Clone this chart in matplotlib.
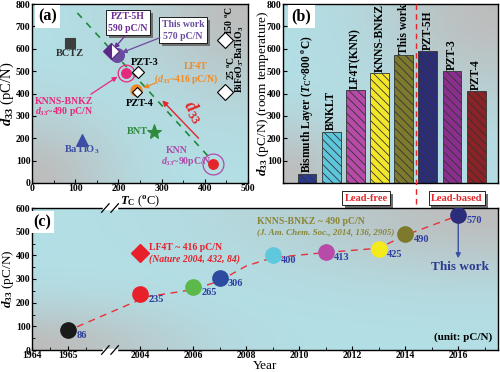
import numpy as np
import matplotlib
matplotlib.use('Agg')
import matplotlib.pyplot as plt
import matplotlib.patheffects as pe

plt.rcParams['font.family'] = ['Liberation Serif', 'DejaVu Serif']
plt.rcParams['font.weight'] = 'bold'
plt.rcParams['mathtext.fontset'] = 'custom'
plt.rcParams['mathtext.rm'] = 'Liberation Serif:bold'
plt.rcParams['mathtext.it'] = 'Liberation Serif:italic:bold'
plt.rcParams['mathtext.bf'] = 'Liberation Serif:bold'
plt.rcParams['hatch.linewidth'] = 0.6
plt.rcParams['xtick.direction'] = 'in'
plt.rcParams['ytick.direction'] = 'in'
plt.rcParams['axes.linewidth'] = 1.0

# ---- (a) d33 vs Tc ----
a_names = ['BCTZ', 'BaTiO3', 'BNT', 'This work', 'PZT-5H', 'KNNS-BNKZ', 'PZT-3',
           'LF4T', 'PZT-4', 'KNN', 'BF-BT 150C', 'BF-BT 25C']
a_tc = [88, 116, 282, 197, 182, 218, 246, 240, 243, 420, 447, 447]
a_d33 = [624, 191, 228, 570, 590, 490, 496, 416, 408, 87, 639, 405]
guide_tc = [105, 410]
guide_d33 = [760, 115]

# ---- (b) bars ----
b_labels = ['Bismuth Layer ($T_\\mathrm{C}$~800 $^\\mathrm{o}$C)', 'BNKLT', 'LF4T(KNN)',
            'KNNS-BNKZ', 'This work', 'PZT-5H', 'PZT-3', 'PZT-4']
b_values = [40, 230, 416, 490, 570, 590, 500, 410]

# ---- (c) history ----
c_years = [1965, 2004, 2006, 2007, 2009, 2011, 2013, 2014, 2016]
c_d33 = [86, 235, 265, 306, 400, 413, 425, 490, 570]
trend_years = [1965.25, 2004.25, 2006, 2007, 2008, 2009, 2011, 2013, 2014, 2016]
trend_d33 = [98, 225, 255, 292, 355, 390, 412, 430, 485, 568]
lf4t_year, lf4t_d33 = 2004, 410


def add_bg(ax, s1=0.12, s2=0.22):
    x = np.linspace(0, 1, 200)
    y = np.linspace(0, 1, 120)
    X, Y = np.meshgrid(x, y)
    w = np.maximum(np.exp(-(X ** 2 + Y ** 2) / s1),
                   np.exp(-((1 - X) ** 2 + (1 - Y) ** 2) / s2))
    cyan = np.array([0.70, 0.875, 0.90])
    gray = np.array([0.74, 0.74, 0.74])
    img = cyan * (1 - w[..., None]) + gray * w[..., None]
    ax.imshow(img, extent=[0, 1, 0, 1], transform=ax.transAxes, origin='lower',
              aspect='auto', zorder=0, interpolation='bilinear')


def shadow_text(ax, x, y, s, color, size, transform=None, **kw):
    tr = transform if transform is not None else ax.transData
    t = ax.text(x, y, s, transform=tr, color=color, fontsize=size, clip_on=False,
                bbox=dict(boxstyle='square,pad=0.25', fc='white', ec='black', lw=0.6),
                **kw)
    t.get_bbox_patch().set_path_effects([
        pe.SimplePatchShadow(offset=(2, -2), shadow_rgbFace='#707070', alpha=1.0),
        pe.Normal()])
    return t


fig = plt.figure(figsize=(5.0, 3.72), dpi=100)
ax_a = fig.add_axes([32 / 500, 1 - 183 / 372, 216 / 500, 179 / 372])
ax_b = fig.add_axes([283 / 500, 1 - 183 / 372, 215 / 500, 179 / 372])
ax_c = fig.add_axes([32 / 500, 1 - 350 / 372, 466 / 500, 142 / 372])

# ================= panel (a) =================
add_bg(ax_a, 0.15, 0.25)
ax_a.plot(guide_tc, guide_d33, ls=(0, (4, 4)), color='#1f8a3a', lw=1.2, zorder=2)

a_markers = ['s', '^', '*', 'o', 'D', 'o', 'D', 'o', 'D', 'o', 'D', 'D']
a_face = ['#3d3d3d', '#3b4ea3', '#2e8b3e', '#6a4c9f', '#5a2a86', '#e8287c', 'white',
          '#f08a24', 'white', '#e3262a', 'white', 'white']
a_edge = ['#3d3d3d', '#3b4ea3', '#2e8b3e', '#6a4c9f', '#5a2a86', '#e8287c', 'black',
          '#f08a24', 'black', '#e3262a', 'black', 'black']
a_size = [7, 9, 11, 10, 8, 7, 6.5, 8, 5, 7, 8, 8]
for i in range(len(a_tc)):
    kw = {}
    if a_names[i] == 'PZT-5H':
        kw = dict(fillstyle='left', markerfacecoloralt='white')
    ax_a.plot(a_tc[i], a_d33[i], a_markers[i], ms=a_size[i], mfc=a_face[i],
              mec=a_edge[i], mew=0.8, zorder=4 + i * 0.01, **kw)
# rings
ax_a.plot(a_tc[5], a_d33[5], 'o', ms=12, mfc='none', mec='#e8287c', mew=0.9, zorder=4)
ax_a.plot(a_tc[9], a_d33[9], 'o', ms=15, mfc='none', mec='#b04aa8', mew=0.9, zorder=4)

ax_a.text(88, 579, 'BCTZ', color='#333333', fontsize=7.5, ha='center', va='center')
ax_a.text(116, 148, 'BaTiO$_3$', color='#3b4ea3', fontsize=7.5, ha='center', va='center')
ax_a.text(268, 228, 'BNT', color='#2e8b3e', fontsize=7.5, ha='right', va='center')
ax_a.text(262, 540, 'PZT-3', color='black', fontsize=7.5, ha='center', va='center')
ax_a.text(250, 357, 'PZT-4', color='black', fontsize=7.5, ha='center', va='center')
ax_a.text(380, 522, 'LF4T', color='#f08a24', fontsize=7, ha='center', va='center')
ax_a.text(356, 465, '($d_{\\mathrm{33}}$~416 pC/N)', color='#f08a24', fontsize=7,
          ha='center', va='center')
ax_a.annotate('', xy=(252, 420), xytext=(292, 452),
              arrowprops=dict(arrowstyle='-|>', color='#f08a24', lw=0.9,
                              mutation_scale=7))
ax_a.text(75, 364, 'KNNS-BNKZ', color='#e8287c', fontsize=7, ha='center', va='center')
ax_a.text(75, 318, '$d_{\\mathrm{33}}$~490 pC/N', color='#e8287c', fontsize=7,
          ha='center', va='center')
ax_a.annotate('', xy=(203, 482), xytext=(131, 390),
              arrowprops=dict(arrowstyle='-|>', color='#e8287c', lw=0.9,
                              mutation_scale=7))
ax_a.text(334, 146, 'KNN', color='#b04aa8', fontsize=7, ha='center', va='center')
ax_a.text(357, 94, '$d_{\\mathrm{33}}$~90pC/N', color='#b04aa8', fontsize=7,
          ha='center', va='center')
ax_a.annotate('', xy=(297, 378), xytext=(390, 191),
              arrowprops=dict(arrowstyle='-|>', color='#e3262a', lw=1.0,
                              mutation_scale=8))
ax_a.text(374, 318, '$d_{\\mathrm{33}}$', color='#e3262a', fontsize=13,
          rotation=-58, ha='center', va='center')
ax_a.text(454, 728, '150 $^\\mathrm{o}$C', rotation=90, fontsize=7, ha='center',
          va='center')
ax_a.text(459, 513, '25 $^\\mathrm{o}$C', rotation=90, fontsize=7, ha='center',
          va='center')
ax_a.text(482, 553, 'BiFeO$_3$-BaTiO$_3$', rotation=90, fontsize=7, ha='center',
          va='center')

shadow_text(ax_a, 222, 717, 'PZT-5H\n590 pC/N', '#6a2c91', 7, ha='center',
            va='center', linespacing=1.4)
shadow_text(ax_a, 350, 683, 'This work\n570 pC/N', '#6a4c9f', 7, ha='center',
            va='center', linespacing=1.4)
ax_a.annotate('', xy=(186, 592), xytext=(220, 668),
              arrowprops=dict(arrowstyle='-|>', color='#6a2c91', lw=0.9,
                              mutation_scale=7))
ax_a.annotate('', xy=(202, 578), xytext=(302, 654),
              arrowprops=dict(arrowstyle='-|>', color='#6a4c9f', lw=0.9,
                              mutation_scale=7))
ax_a.text(0.03, 0.93, '(a)', transform=ax_a.transAxes, fontsize=11.5, va='center',
          bbox=dict(boxstyle='square,pad=0.2', fc='white', ec='none'), zorder=6)

ax_a.set_xlim(0, 500)
ax_a.set_ylim(0, 800)
ax_a.set_xticks(np.arange(0, 501, 100))
ax_a.set_xticks(np.arange(50, 500, 100), minor=True)
ax_a.set_yticks(np.arange(0, 801, 100))
ax_a.tick_params(labelsize=7, length=3, pad=1)
ax_a.tick_params(which='minor', length=2)
ax_a.set_xlabel('$T_\\mathrm{C}$ ($^\\mathrm{o}$C)', fontsize=9, labelpad=0)
ax_a.set_ylabel('$d_{\\mathrm{33}}$ (pC/N)', fontsize=10.5)
ax_a.yaxis.set_label_coords(-0.072, 0.5)

# ================= panel (b) =================
add_bg(ax_b, 0.12, 0.3)
b_colors = ['#2b3a8f', '#5ec6dc', '#b84aa8', '#f3e62a', '#7d7a2e', '#2c2d7a',
            '#8b2f8f', '#8b2226']
x_b = np.arange(len(b_values))
ax_b.bar(x_b, b_values, width=0.78, color=b_colors, edgecolor='#333333', lw=0.6,
         hatch='\\\\\\\\', zorder=2)
for i in range(len(b_values)):
    ax_b.text(x_b[i], b_values[i] + 6, b_labels[i], rotation=90, ha='center',
              va='bottom', fontsize=8.3, zorder=3)
ax_b.plot([4.5, 4.5], [-0.12, 1.0], transform=ax_b.get_xaxis_transform(),
          clip_on=False, color='#e3262a', ls=(0, (4, 3)), lw=1.0, zorder=3)
shadow_text(ax_b, 2.44, -0.085, 'Lead-free', '#e3262a', 7.5, ha='center', va='center',
            transform=ax_b.get_xaxis_transform())
shadow_text(ax_b, 6.2, -0.085, 'Lead-based', '#e3262a', 7.5, ha='center', va='center',
            transform=ax_b.get_xaxis_transform())
ax_b.text(0.04, 0.93, '(b)', transform=ax_b.transAxes, fontsize=11.5, va='center',
          bbox=dict(boxstyle='square,pad=0.2', fc='white', ec='none'), zorder=6)
ax_b.set_xlim(-0.99, 7.9)
ax_b.set_ylim(0, 800)
ax_b.set_xticks([])
ax_b.set_yticks(np.arange(0, 801, 100))
ax_b.set_yticklabels([''] + [str(v) for v in range(100, 801, 100)])
ax_b.tick_params(labelsize=7, length=3, pad=1)
ax_b.set_ylabel('$d_{\\mathrm{33}}$ (pC/N) (room temperature)', fontsize=9.5)
ax_b.yaxis.set_label_coords(-0.058, 0.5)

# ================= panel (c) =================
K = 36 / 26.5
B_L, B_R = 1966.17, 2002.87
Y0 = (B_L - 1964) * K


def fwd(x):
    x = np.asarray(x, dtype=float)
    return np.where(x < 1985, (x - 1964) * K, Y0 + (x - B_R))


def inv(y):
    y = np.asarray(y, dtype=float)
    return np.where(y < Y0, 1964 + y / K, B_R + (y - Y0))


ax_c.set_xscale('function', functions=(fwd, inv))
add_bg(ax_c, 0.10, 0.22)
c_colors = ['#1a1a1a', '#e8202a', '#5cb848', '#2b4aa0', '#5ec8dc', '#b84aa8',
            '#f5ea1e', '#7d7a2e', '#2c2d7a']
ax_c.plot(trend_years, trend_d33, color='#e8303a', ls=(0, (5, 4)), lw=1.0, zorder=2)
for i in range(len(c_years)):
    ax_c.plot(c_years[i], c_d33[i], 'o', ms=11, mfc=c_colors[i], mec=c_colors[i],
              zorder=4)
    ax_c.annotate(str(c_d33[i]), (c_years[i], c_d33[i]), xytext=(6, -4),
                  textcoords='offset points', ha='left', va='center', fontsize=7.5,
                  color='#2f3f9f', zorder=5)
ax_c.plot(lf4t_year, lf4t_d33, 'D', ms=9, mfc='#e8202a', mec='#e8202a', zorder=4)
ax_c.text(2004.35, 431, 'LF4T ~ 416 pC/N', color='#e8202a', fontsize=7, va='center')
ax_c.text(2004.35, 384, '(Nature 2004, 432, 84)', color='#e8202a', fontsize=7,
          va='center', style='italic')
ax_c.text(2008.4, 542, 'KNNS-BNKZ ~ 490 pC/N', color='#8a8536', fontsize=7,
          va='center')
ax_c.text(2008.4, 496, '(J. Am. Chem. Soc., 2014, 136, 2905)', color='#8a8536',
          fontsize=6.5, va='center', style='italic')
ax_c.annotate('', xy=(2016, 376), xytext=(2016, 560),
              arrowprops=dict(arrowstyle='-|>', color='#3b4ea3', lw=1.0,
                              mutation_scale=7))
ax_c.text(2016.05, 350, 'This work', color='#2c3a8f', fontsize=9.5, ha='center',
          va='center')
ax_c.text(2017.3, 55, '(unit: pC/N)', color='black', fontsize=8, ha='right',
          va='center')
ax_c.text(0.003, 0.9, '(c)', transform=ax_c.transAxes, fontsize=11.5, va='center',
          bbox=dict(boxstyle='square,pad=0.2', fc='white', ec='none'), zorder=6)

# axis break marks
xb = (110 - 32) / 466
for yb in (0.0, 1.0):
    ax_c.plot([xb - 0.012, xb + 0.012], [yb, yb], transform=ax_c.transAxes,
              color='white', lw=2.5, clip_on=False, zorder=7)
    for dx in (-0.01, 0.01):
        ax_c.plot([xb + dx - 0.008, xb + dx + 0.008], [yb - 0.03, yb + 0.03],
                  transform=ax_c.transAxes, color='black', lw=0.9, clip_on=False,
                  zorder=8)

ax_c.set_xlim(1964, 2017.5)
ax_c.set_ylim(0, 600)
c_ticks = [1964, 1965, 2004, 2006, 2008, 2010, 2012, 2014, 2016]
ax_c.set_xticks(c_ticks)
ax_c.set_xticklabels([str(t) for t in c_ticks])
ax_c.set_xticks([1964.5, 1965.5, 2005, 2007, 2009, 2011, 2013, 2015, 2017],
                minor=True)
ax_c.set_xticklabels([], minor=True)
ax_c.set_yticks(np.arange(0, 601, 100))
ax_c.set_yticks(np.arange(50, 600, 100), minor=True)
ax_c.tick_params(labelsize=7, length=3, pad=1)
ax_c.tick_params(which='minor', length=2)
ax_c.set_xlabel('Year', fontsize=9.5, labelpad=0)
ax_c.set_ylabel('$d_{\\mathrm{33}}$ (pC/N)', fontsize=9.5)
ax_c.yaxis.set_label_coords(-0.034, 0.5)

fig.savefig('out.png', dpi=100)
